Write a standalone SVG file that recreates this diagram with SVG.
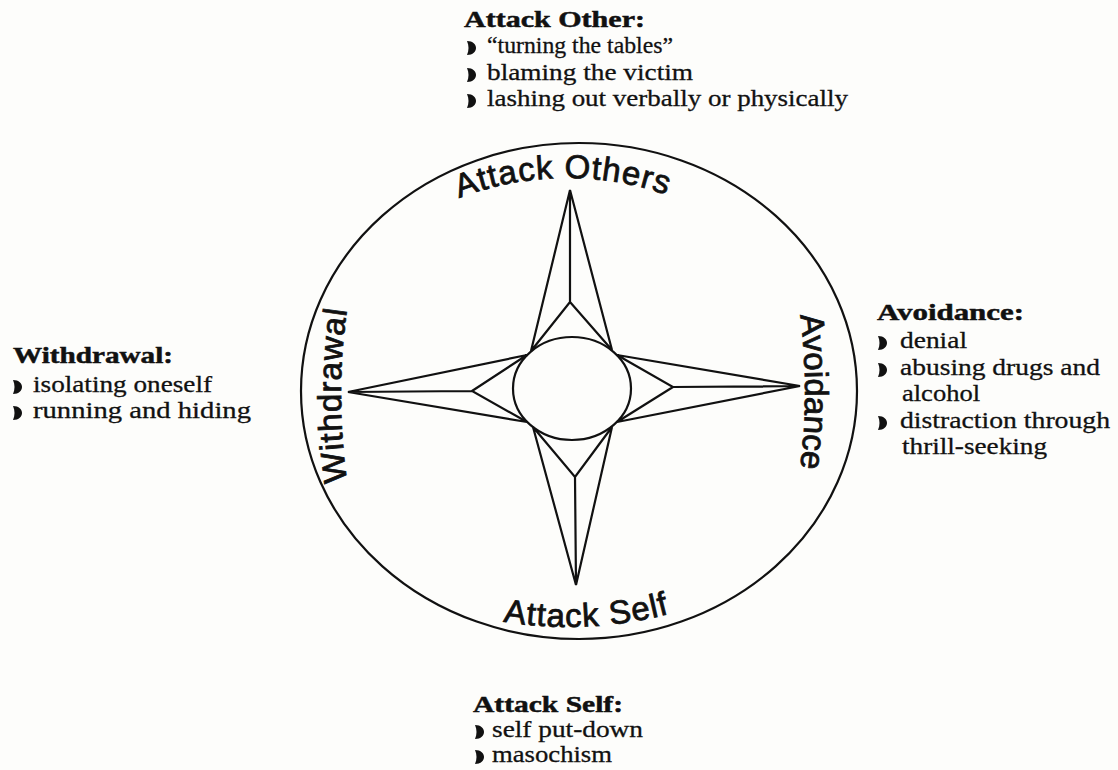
<svg xmlns="http://www.w3.org/2000/svg" width="1118" height="770" viewBox="0 0 1118 770">
<defs>
<style>
.ln{fill:none;stroke:#111;stroke-width:2.2;stroke-linejoin:miter}
.lab{font-family:"Liberation Sans",Arial,sans-serif;font-size:33px;fill:#111;stroke:#111;stroke-width:0.8;letter-spacing:1px}
.hd{font-family:"Liberation Serif","Times New Roman",serif;font-size:24px;font-weight:bold;fill:#111;stroke:#111;stroke-width:0.5}
.tx{font-family:"Liberation Serif","Times New Roman",serif;font-size:24px;fill:#111;stroke:#111;stroke-width:0.3}
.bul{fill:#111}
</style>
<path id="bul" d="M0,-12 C12,-12 12,2 0,2 C2,-3 2,-7 0,-12 Z"/>
<path id="pTop" d="M267,478 A300,300 0 0 1 867,478"/>
<path id="pBot" d="M168,227 A400,400 0 0 0 968,227"/>
<path id="pLeft" d="M941,995 A600,600 0 0 1 941,-205"/>
<path id="pRight" d="M205,-208 A600,600 0 0 1 205,992"/>
</defs>
<rect width="1118" height="770" fill="#fdfdfb"/>

<g id="compass">
<ellipse class="ln" cx="579" cy="391" rx="278" ry="248"/>
<ellipse class="ln" cx="572" cy="388.5" rx="59" ry="51.5"/>
<path class="ln" d="M531,351 L570,190 L612,350 M531,351 L570,302 L612,350 M570,190 L570,302"/>
<path class="ln" d="M533,427 L576,585 L612,427 M533,427 L575,477 L612,427 M576,585 L575,477"/>
<path class="ln" d="M527,355 L348,392 L527,422 M527,355 L472,391 L527,422 M348,392 L472,391"/>
<path class="ln" d="M617,355 L800,386 L617,422 M617,355 L673,387 L617,422 M800,386 L673,387"/>
</g>

<g id="attack-others">
<text class="lab" text-anchor="middle"><textPath href="#pTop" startOffset="467">Attack Others</textPath></text>
<text class="hd" x="464" y="27" textLength="181" lengthAdjust="spacingAndGlyphs">Attack Other:</text>
<use class="bul" href="#bul" x="467" y="53"/>
<use class="bul" href="#bul" x="467" y="80"/>
<use class="bul" href="#bul" x="467" y="106"/>
<text class="tx" x="487" y="53" textLength="186" lengthAdjust="spacingAndGlyphs">“turning the tables”</text>
<text class="tx" x="487" y="80" textLength="206" lengthAdjust="spacingAndGlyphs">blaming the victim</text>
<text class="tx" x="487" y="106" textLength="361" lengthAdjust="spacingAndGlyphs">lashing out verbally or physically</text>
</g>

<g id="avoidance">
<text class="lab" text-anchor="middle" style="letter-spacing:0"><textPath href="#pRight" startOffset="942">Avoidance</textPath></text>
<text class="hd" x="877" y="320" textLength="147" lengthAdjust="spacingAndGlyphs">Avoidance:</text>
<use class="bul" href="#bul" x="878" y="348"/>
<use class="bul" href="#bul" x="878" y="375"/>
<use class="bul" href="#bul" x="878" y="428"/>
<text class="tx" x="900" y="348" textLength="67" lengthAdjust="spacingAndGlyphs">denial</text>
<text class="tx" x="900" y="375" textLength="200" lengthAdjust="spacingAndGlyphs">abusing drugs and</text>
<text class="tx" x="902" y="401" textLength="78" lengthAdjust="spacingAndGlyphs">alcohol</text>
<text class="tx" x="900" y="428" textLength="210" lengthAdjust="spacingAndGlyphs">distraction through</text>
<text class="tx" x="902" y="454" textLength="145" lengthAdjust="spacingAndGlyphs">thrill-seeking</text>
</g>

<g id="withdrawal">
<text class="lab" text-anchor="middle"><textPath href="#pLeft" startOffset="942">Withdrawal</textPath></text>
<text class="hd" x="13" y="363" textLength="160" lengthAdjust="spacingAndGlyphs">Withdrawal:</text>
<use class="bul" href="#bul" x="13" y="392"/>
<use class="bul" href="#bul" x="13" y="418"/>
<text class="tx" x="33" y="392" textLength="179" lengthAdjust="spacingAndGlyphs">isolating oneself</text>
<text class="tx" x="33" y="418" textLength="218" lengthAdjust="spacingAndGlyphs">running and hiding</text>
</g>

<g id="attack-self">
<text class="lab" text-anchor="middle"><textPath href="#pBot" startOffset="647">Attack Self</textPath></text>
<text class="hd" x="473" y="712" textLength="150" lengthAdjust="spacingAndGlyphs">Attack Self:</text>
<use class="bul" href="#bul" x="475" y="737"/>
<use class="bul" href="#bul" x="475" y="762"/>
<text class="tx" x="492" y="737" textLength="151" lengthAdjust="spacingAndGlyphs">self put-down</text>
<text class="tx" x="492" y="762" textLength="120" lengthAdjust="spacingAndGlyphs">masochism</text>
</g>
</svg>
